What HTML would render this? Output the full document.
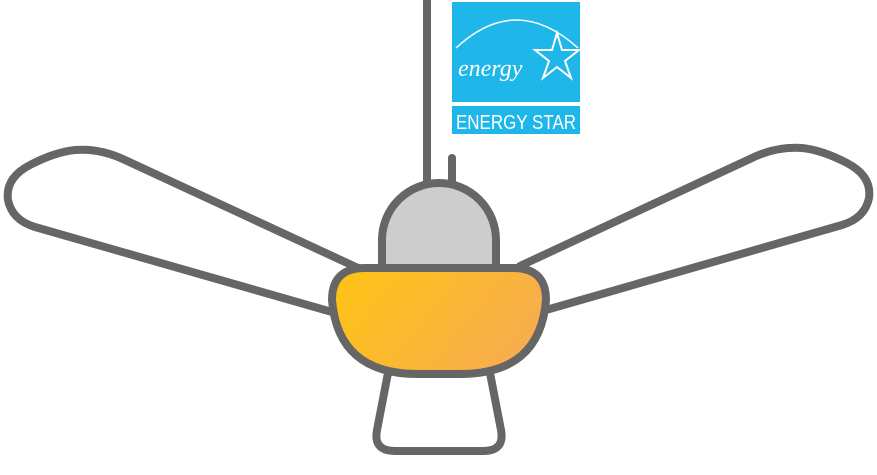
<!DOCTYPE html>
<html><head><meta charset="utf-8"><style>
html,body{margin:0;padding:0;background:#fff;width:877px;height:475px;overflow:hidden}
svg{display:block}
</style></head><body>
<svg width="877" height="475" viewBox="0 0 877 475" xmlns="http://www.w3.org/2000/svg">
<defs>
<linearGradient id="g" x1="0" y1="0" x2="1" y2="0.4">
<stop offset="0" stop-color="#fec412"/><stop offset="1" stop-color="#f8ae4c"/>
</linearGradient>
</defs>
<g fill="none" stroke="#666" stroke-width="8" stroke-linejoin="round" stroke-linecap="round">
<line x1="427" y1="0" x2="427" y2="186"/>
<line x1="452" y1="158" x2="452" y2="186"/>
<path d="M358,268 L125,160 Q100,148 75,150 Q55,152 30,165 Q5,178 8,200 Q12,220 35,227 L332,312" fill="#fff"/>
<path d="M520,266 L752,158 Q777,146 802,148 Q822,150 847,163 Q872,176 869,198 Q865,218 842,225 L546,310" fill="#fff"/>
<path d="M382,268 L382,240 A57,57 0 0 1 496,240 L496,268 Z" fill="#cdcdcd"/>
<path d="M388,373 L377,430 Q373,451 395,451 L483,451 Q505,451 501,430 L490,373" fill="#fff"/>
<path d="M365,268 L513,268 Q546,268 546,300 Q540,374 460,374 L418,374 Q338,374 332,300 Q332,268 365,268 Z" fill="url(#g)"/>
</g>
<rect x="452" y="2" width="128" height="100" fill="#1fb6ea"/>
<rect x="452" y="106" width="128" height="28" fill="#1fb6ea"/>
<path d="M456,48 Q516,-8 578,48" fill="none" stroke="#fff" stroke-width="1.5"/>
<text x="458" y="76" font-family="Liberation Serif, serif" font-style="italic" font-size="24" fill="#fff">energy</text>
<polygon points="557,33 562,50 579,50 565,61 571,78 557,67 543,78 549,61 535,50 552,50" fill="none" stroke="#fff" stroke-width="2"/>
<text x="516" y="129" text-anchor="middle" font-family="Liberation Sans, sans-serif" font-size="20" fill="#fff" textLength="120" lengthAdjust="spacingAndGlyphs">ENERGY STAR</text>
</svg>
</body></html>
